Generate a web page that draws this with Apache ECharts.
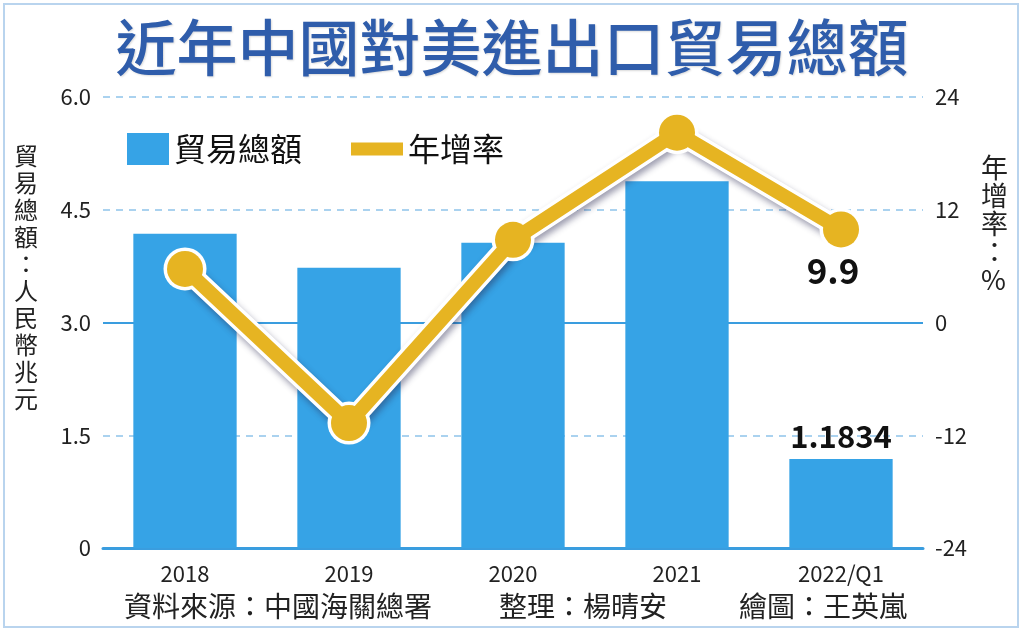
<!DOCTYPE html>
<html>
<head>
<meta charset="utf-8">
<title>近年中國對美進出口貿易總額</title>
<script src="https://cdn.jsdelivr.net/npm/echarts@6/dist/echarts.min.js"></script>
<style>
  html, body { margin: 0; padding: 0; background: #fff; }
  #chart { width: 1024px; height: 633px; }
</style>
</head>
<body>
<div id="chart"></div>
<script>
// 資料
const years = ["2018", "2019", "2020", "2021", "2022/Q1"];
const tradeTotal = [4.18, 3.73, 4.06, 4.88, 1.1834]; // 人民幣兆元
const growthRate = [5.7, -10.7, 8.8, 20.2, 9.9]; // %
const leftTicks = [0, 1.5, 3.0, 4.5, 6.0];
const rightTicks = [-24, -12, 0, 12, 24];

const FONT = '"Noto Sans CJK TC", "Noto Sans", sans-serif';
const BLUE = "#36a3e6";
const GOLD = "#e6b422";
const AXIS_BLUE = "#3a9ddf";

// 直排文字
const vertical = (s) => s.split("").join("\n");

let chart = echarts.init(document.getElementById("chart"));

let option = {
  backgroundColor: "#fff",
  animation: false,
  title: {
    text: "近年中國對美進出口貿易總額",
    left: "center",
    top: 12,
    textStyle: {
      fontFamily: FONT,
      fontSize: 61,
      fontWeight: 500,
      color: "#2f5dab",
      textShadowColor: "rgba(0,0,0,0.15)",
      textShadowBlur: 2,
      textShadowOffsetX: 1,
      textShadowOffsetY: 1
    }
  },
  legend: [
    {
      data: ["貿易總額"],
      left: 122,
      top: 128,
      icon: "rect",
      itemWidth: 42,
      itemHeight: 32,
      itemGap: 10,
      textStyle: { fontFamily: FONT, fontSize: 32, color: "#111" }
    },
    {
      data: ["年增率"],
      left: 346,
      top: 128,
      icon: "rect",
      itemWidth: 52,
      itemHeight: 13,
      textStyle: { fontFamily: FONT, fontSize: 32, color: "#111" }
    }
  ],
  grid: { left: 103, right: 101, top: 97, bottom: 85 },
  xAxis: {
    type: "category",
    data: years,
    axisLine: { lineStyle: { color: AXIS_BLUE, width: 3 } },
    axisTick: { alignWithLabel: true, length: 8, lineStyle: { color: AXIS_BLUE, width: 2 } },
    axisLabel: { fontFamily: FONT, fontSize: 22, color: "#222", margin: 15 }
  },
  yAxis: [
    {
      type: "value",
      min: leftTicks[0],
      max: leftTicks[leftTicks.length - 1],
      interval: 1.5,
      axisLine: { show: false },
      axisTick: { show: false },
      axisLabel: {
        fontFamily: FONT,
        fontSize: 22,
        color: "#222",
        margin: 12,
        formatter: (v) => (v === 0 ? "0" : v.toFixed(1))
      },
      splitLine: {
        lineStyle: { color: "#8fc3ea", type: [7, 6], width: 1.5 }
      }
    },
    {
      type: "value",
      min: rightTicks[0],
      max: rightTicks[rightTicks.length - 1],
      interval: 12,
      axisLine: { show: false },
      axisTick: { show: false },
      axisLabel: { fontFamily: FONT, fontSize: 22, color: "#222", margin: 12 },
      splitLine: { show: false }
    },
    {
      // 只用來畫 3.0 / 0 的實線
      type: "value",
      min: 0,
      max: 6,
      interval: 3,
      show: true,
      axisLine: { show: false },
      axisTick: { show: false },
      axisLabel: { show: false },
      splitLine: {
        lineStyle: { color: ["transparent", AXIS_BLUE, "transparent"], width: 2 }
      }
    }
  ],
  series: [
    {
      name: "貿易總額",
      type: "bar",
      data: tradeTotal,
      barWidth: "63%",
      itemStyle: { color: BLUE },
      label: {
        show: true,
        position: "top",
        distance: 7,
        fontFamily: FONT,
        fontSize: 31,
        fontWeight: "bold",
        color: "#111",
        formatter: (p) => (p.dataIndex === tradeTotal.length - 1 ? String(p.value) : "")
      }
    },
    {
      // 白色外框與陰影
      name: "outline",
      type: "line",
      yAxisIndex: 1,
      data: growthRate,
      symbol: "circle",
      symbolSize: 43,
      silent: true,
      lineStyle: {
        color: "#fff",
        width: 21,
        shadowColor: "rgba(40,40,80,0.45)",
        shadowBlur: 6,
        shadowOffsetX: 2,
        shadowOffsetY: 4
      },
      itemStyle: { color: "#fff" },
      z: 3
    },
    {
      name: "年增率",
      type: "line",
      yAxisIndex: 1,
      data: growthRate,
      symbol: "circle",
      symbolSize: 36,
      lineStyle: { color: GOLD, width: 14 },
      itemStyle: { color: GOLD },
      z: 4,
      label: {
        show: true,
        position: "bottom",
        distance: 6,
        offset: [-8, 0],
        fontFamily: FONT,
        fontSize: 35,
        fontWeight: "bold",
        color: "#111",
        formatter: (p) => (p.dataIndex === growthRate.length - 1 ? String(p.value) : "")
      }
    }
  ],
  graphic: [
    {
      type: "rect",
      shape: { x: 4, y: 4, width: 1014, height: 623 },
      style: { fill: "none", stroke: "#b9d4ee", lineWidth: 2 },
      silent: true
    },
    {
      type: "text",
      left: 14,
      top: 142,
      style: {
        text: vertical("貿易總額：人民幣兆元"),
        fontFamily: FONT,
        fontSize: 24,
        lineHeight: 27,
        fill: "#222",
        align: "center"
      }
    },
    {
      type: "text",
      left: 981,
      top: 154,
      style: {
        text: vertical("年增率：%"),
        fontFamily: FONT,
        fontSize: 27,
        lineHeight: 28,
        fill: "#222",
        align: "center"
      }
    },
    {
      type: "text",
      left: 124,
      top: 592,
      style: { text: "資料來源：中國海關總署", fontFamily: FONT, fontSize: 28, fill: "#222" }
    },
    {
      type: "text",
      left: 499,
      top: 592,
      style: { text: "整理：楊晴安", fontFamily: FONT, fontSize: 28, fill: "#222" }
    },
    {
      type: "text",
      left: 739,
      top: 592,
      style: { text: "繪圖：王英嵐", fontFamily: FONT, fontSize: 28, fill: "#222" }
    }
  ]
};

chart.setOption(option);
</script>
</body>
</html>
